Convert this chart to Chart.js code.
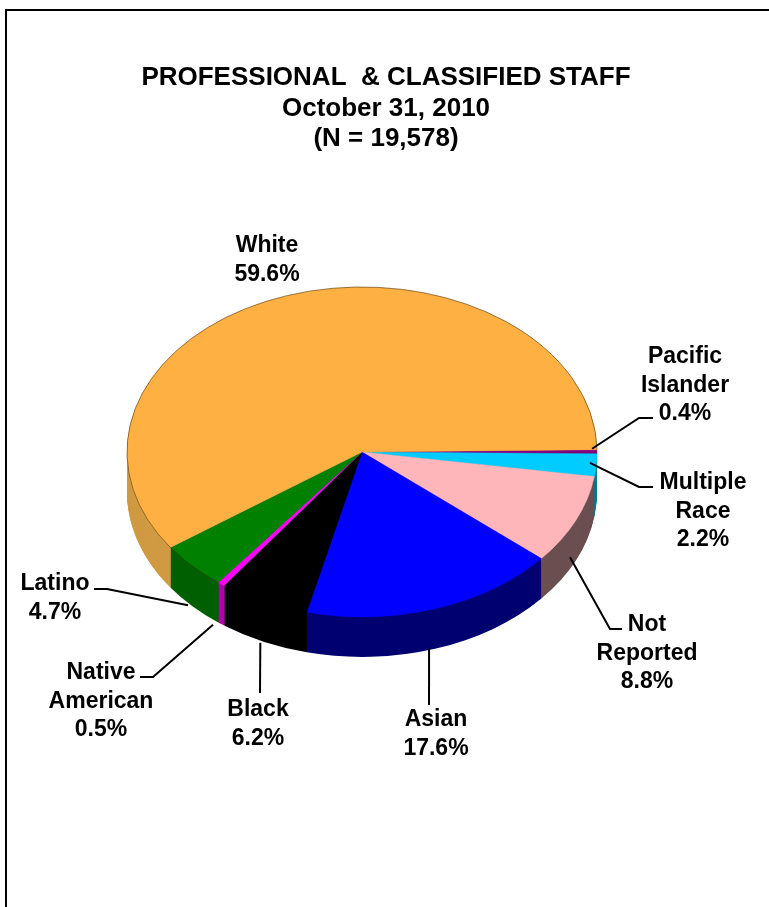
<!DOCTYPE html>
<html>
<head>
<meta charset="utf-8">
<title>Professional & Classified Staff</title>
<style>
  html, body { margin: 0; padding: 0; background: #fff; overflow: hidden; }
  canvas { display: block; }
</style>
<script src="https://cdn.jsdelivr.net/npm/chart.js@4/dist/chart.umd.min.js"></script>
</head>
<body>
<canvas id="myChart" width="769" height="907"></canvas>
<script>
const titleLines = ["PROFESSIONAL  & CLASSIFIED STAFF", "October 31, 2010", "(N = 19,578)"];
const categories = ["Pacific Islander", "Multiple Race", "Not Reported", "Asian", "Black", "Native American", "Latino", "White"];
const categoryLines = [["Pacific", "Islander"], ["Multiple", "Race"], ["Not", "Reported"], ["Asian"], ["Black"], ["Native", "American"], ["Latino"], ["White"]];
const shares = [0.4, 2.2, 8.8, 17.6, 6.2, 0.5, 4.7, 59.6];
const topColors = ["#800080", "#00CCFF", "#FFB6BA", "#0000FF", "#000000", "#FF00FF", "#008000", "#FFB042"];
const sideColors = ["#4A004A", "#007C92", "#6B4F50", "#000070", "#000000", "#B000B0", "#006000", "#CF9A42"];

// =========================
// ======= LAYOUT ==========
//==========================

const pieX = 362;
const pieY = 452;
const pieRadius = 235;
const squash = 165 / 235;
const pieDepth = 40;

// label centre x, first line y
const labelSpots = [[685, 357], [703, 483], [647, 625], [436, 720], [258, 710], [101, 673], [55, 584], [267, 246]];
const lineStep = 28.5;
// leader start on the rim: radius factor, drop. then the points it runs through
const leaders = [
  [0.979, -3, [[639, 418], [653, 418]]],
  [0.973, -2, [[639, 487], [653, 487]]],
  [0.972, 39, [[610, 629], [622, 629]]],
  [0.92, 52, [[429, 705]]],
  [1.033, 36, [[260, 693]]],
  [1.058, 33, [[153, 677], [140, 677]]],
  [1.026, 36, [[107, 589], [94, 589]]],
  null
];

function squashed(ctx, arc) {
  ctx.translate(pieX, pieY);
  ctx.scale(1, squash);
  ctx.translate(-arc.x, -arc.y);
}

const pie3d = {
  id: "pie3d",
  beforeDraw(chart) {
    const ctx = chart.ctx;
    ctx.save();
    ctx.strokeStyle = "#000";
    ctx.lineWidth = 2;
    ctx.beginPath();
    ctx.moveTo(6, 907);
    ctx.lineTo(6, 10);
    ctx.lineTo(769, 10);
    ctx.stroke();
    ctx.restore();
  },
  beforeDatasetsDraw(chart) {
    const ctx = chart.ctx;
    const arcs = chart.getDatasetMeta(0).data;

    // side wall, stacked copies of the slices going down
    for (let d = pieDepth; d >= 1; d--) {
      arcs.forEach(function(arc, i) {
        ctx.save();
        ctx.translate(0, d);
        squashed(ctx, arc);
        ctx.fillStyle = sideColors[i];
        ctx.beginPath();
        ctx.moveTo(arc.x, arc.y);
        ctx.arc(arc.x, arc.y, arc.outerRadius, arc.startAngle, arc.endAngle);
        ctx.closePath();
        ctx.fill();
        ctx.restore();
      });
    }

    ctx.save();
    squashed(ctx, arcs[0]);
  },
  afterDatasetsDraw(chart) {
    const ctx = chart.ctx;
    const arcs = chart.getDatasetMeta(0).data;
    ctx.restore();

    // thin dark rim on the top face, latino and white
    ctx.save();
    squashed(ctx, arcs[0]);
    ctx.strokeStyle = "rgba(50,35,10,0.6)";
    ctx.lineWidth = 1;
    ctx.beginPath();
    ctx.arc(arcs[0].x, arcs[0].y, arcs[0].outerRadius, arcs[6].startAngle, arcs[7].endAngle);
    ctx.stroke();
    ctx.restore();

    // leaders
    ctx.strokeStyle = "#000";
    ctx.lineWidth = 2;
    leaders.forEach(function(leader, i) {
      if (!leader) return;
      const arc = arcs[i];
      const mid = (arc.startAngle + arc.endAngle) / 2;
      ctx.beginPath();
      ctx.moveTo(pieX + pieRadius * leader[0] * Math.cos(mid),
        pieY + pieRadius * squash * leader[0] * Math.sin(mid) + leader[1]);
      leader[2].forEach(function(p) {
        ctx.lineTo(p[0], p[1]);
      });
      ctx.stroke();
    });

    // labels
    ctx.fillStyle = "#000";
    ctx.font = "bold 23px 'Liberation Sans'";
    ctx.textAlign = "center";
    ctx.textBaseline = "middle";
    categoryLines.forEach(function(lines, i) {
      const spot = labelSpots[i];
      lines.concat(shares[i].toFixed(1) + "%").forEach(function(line, k) {
        ctx.fillText(line, spot[0], spot[1] + k * lineStep);
      });
    });
  }
};

var ctx = document.getElementById("myChart").getContext("2d");

var chart = new Chart(ctx, {
  type: "pie",
  data: {
    labels: categories,
    datasets: [
      {
        data: shares,
        backgroundColor: topColors,
        borderColor: topColors,
        borderWidth: 0.5,
        clip: false
      }
    ]
  },
  options: {
    responsive: false,
    animation: false,
    devicePixelRatio: 1,
    rotation: 89.2,
    radius: pieRadius,
    layout: { padding: { left: 3, top: 63 } },
    plugins: {
      legend: { display: false },
      tooltip: { enabled: false },
      title: {
        display: true,
        text: titleLines,
        color: "#000",
        font: { family: "'Liberation Sans'", size: 26, weight: "bold", lineHeight: 1.17 },
        padding: 0
      }
    }
  },
  plugins: [pie3d]
});
</script>
</body>
</html>
